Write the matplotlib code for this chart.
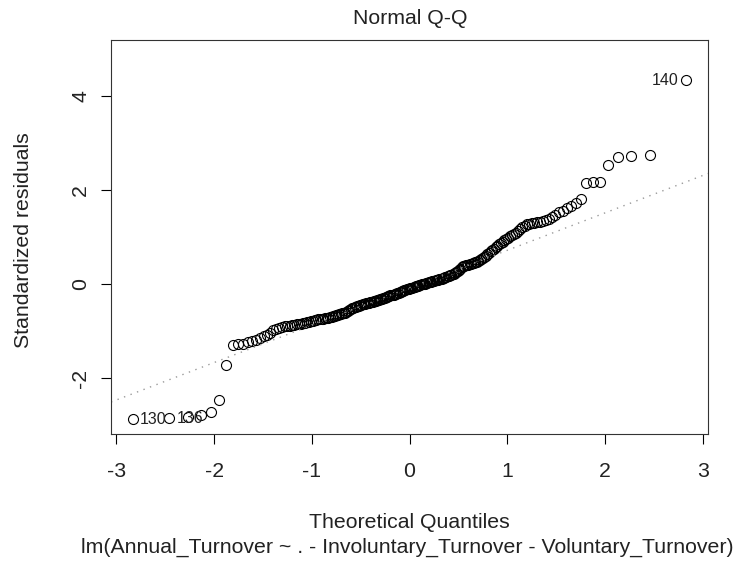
from statistics import NormalDist

import matplotlib
matplotlib.use("Agg")
from matplotlib import pyplot as plt
import numpy as np

plt.rcParams['font.family'] = ['Liberation Sans', 'DejaVu Sans']
plt.rcParams['axes.unicode_minus'] = False

# sorted standardized residuals, n = 214
resid_low = [-2.88, -2.86, -2.83, -2.79, -2.73, -2.46, -1.73, -1.30, -1.28, -1.27,
             -1.24, -1.21, -1.18, -1.15, -1.11, -1.08, -1.03, -0.98, -0.95, -0.93,
             -0.91, -0.90, -0.89, -0.88, -0.87, -0.86, -0.85, -0.845, -0.84, -0.83,
             -0.82, -0.81, -0.80, -0.79, -0.78, -0.77, -0.76, -0.75, -0.745, -0.74,
             -0.735, -0.73, -0.72, -0.71, -0.70, -0.69, -0.68, -0.67, -0.66, -0.65,
             -0.64, -0.63, -0.62, -0.615, -0.605, -0.59, -0.57, -0.55, -0.53, -0.51,
             -0.50, -0.49, -0.48, -0.47, -0.46, -0.45, -0.44, -0.43, -0.42, -0.415,
             -0.41, -0.40, -0.39, -0.385, -0.38, -0.37, -0.36, -0.355, -0.35, -0.34,
             -0.33, -0.325, -0.32, -0.31, -0.30, -0.29, -0.28, -0.27, -0.26, -0.25,
             -0.24, -0.235, -0.23, -0.22, -0.21, -0.20, -0.19, -0.18, -0.17, -0.16,
             -0.15, -0.14, -0.13, -0.12, -0.11, -0.10, -0.095]
resid_high = [-0.09, -0.08, -0.07, -0.06, -0.05, -0.045, -0.04, -0.03, -0.02, -0.01,
              -0.005, 0.00, 0.01, 0.015, 0.02, 0.03, 0.04, 0.045, 0.05, 0.06,
              0.07, 0.075, 0.08, 0.09, 0.10, 0.11, 0.115, 0.12, 0.13, 0.14,
              0.15, 0.16, 0.17, 0.18, 0.19, 0.20, 0.21, 0.22, 0.24, 0.26,
              0.28, 0.30, 0.33, 0.36, 0.38, 0.39, 0.40, 0.41, 0.42, 0.43,
              0.44, 0.45, 0.455, 0.465, 0.48, 0.50, 0.52, 0.54, 0.56, 0.58,
              0.61, 0.64, 0.67, 0.70, 0.73, 0.76, 0.79, 0.82, 0.85, 0.88,
              0.91, 0.94, 0.96, 0.99, 1.02, 1.05, 1.07, 1.10, 1.13, 1.17,
              1.21, 1.25, 1.28, 1.29, 1.30, 1.31, 1.32, 1.33, 1.35, 1.37,
              1.40, 1.44, 1.48, 1.53, 1.57, 1.62, 1.67, 1.73, 1.81, 2.16,
              2.17, 2.18, 2.53, 2.70, 2.73, 2.76, 4.35]
resid = np.array(resid_low + resid_high)

# observation numbers of the three most extreme residuals (position in sorted order -> id)
id_pos = [0, 1, 213]
id_labels = ['130', '136', '140']

xticks = [-3, -2, -1, 0, 1, 2, 3]
yticks = [-2, 0, 2, 4]

# theoretical quantiles as qqnorm does it (ppoints, a = 1/2)
n = len(resid)
nd = NormalDist()
theo = np.array([nd.inv_cdf((i + 0.5) / n) for i in range(n)])

# qqline through the quartiles
q1, q3 = np.percentile(resid, [25, 75])
z1, z3 = nd.inv_cdf(0.25), nd.inv_cdf(0.75)
slope = (q3 - q1) / (z3 - z1)
icpt = q1 - slope * z1

fig = plt.figure(figsize=(7.4, 5.63), dpi=100)
ax = fig.add_axes([111/740, 1 - 434/563, (708 - 111)/740, (434 - 40)/563])

ax.plot(theo, resid, 'o', mfc='none', mec='black', ms=7.2, mew=0.8)
ax.axline((0, icpt), slope=slope, color='#9a9a9a', lw=1.0, ls=(0, (1, 4)))

for p, lab in zip(id_pos, id_labels):
    if theo[p] > 0:
        ax.annotate(lab, (theo[p], resid[p]), xytext=(-5, 0), textcoords='offset points',
                    ha='right', va='center', fontsize=11.5, color='#222222')
    else:
        ax.annotate(lab, (theo[p], resid[p]), xytext=(5, 0), textcoords='offset points',
                    ha='left', va='center', fontsize=11.5, color='#222222')

# R style limits: 4% padding, extra 7.5% room on top for labels
xr = theo.max() - theo.min()
ax.set_xlim(theo.min() - 0.04*xr, theo.max() + 0.04*xr)
ylo, yhi = resid.min(), resid.max()
yhi = yhi + 0.075*(yhi - ylo)
yr = yhi - ylo
ax.set_ylim(ylo - 0.04*yr, yhi + 0.04*yr)

ax.set_xticks(xticks)
ax.set_yticks(yticks)
ax.tick_params(direction='out', length=7, width=0.8, labelsize=15.3, labelcolor='#222222')
ax.tick_params(axis='x', pad=13)
ax.tick_params(axis='y', labelrotation=90, pad=8)
for t in ax.get_yticklabels():
    t.set_va('center')
for s in ax.spines.values():
    s.set_linewidth(0.8)
    s.set_color('#333333')

txt = dict(ha='center', va='center', fontsize=15.3, color='#222222')
fig.text(410/740, 1 - 19/563, 'Normal Q-Q', **txt)
fig.text(24/740, 1 - 240/563, 'Standardized residuals', rotation=90, **txt)
fig.text(409/740, 1 - 523/563, 'Theoretical Quantiles', **txt)
fig.text(407/740, 1 - 547/563,
         'lm(Annual_Turnover ~ . - Involuntary_Turnover - Voluntary_Turnover)', **txt)

fig.savefig('out.png', dpi=100)
